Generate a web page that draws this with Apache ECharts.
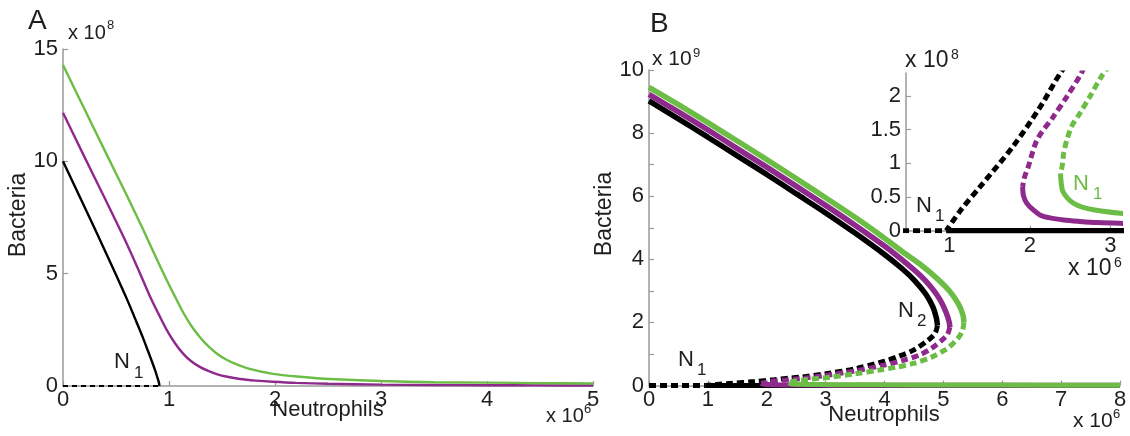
<!DOCTYPE html>
<html><head><meta charset="utf-8">
<script src="https://cdn.jsdelivr.net/npm/echarts@6/dist/echarts.min.js"></script>
<style>html,body{margin:0;padding:0;background:#fff}#c{width:1130px;height:436px}</style>
</head><body><div id="c"></div>
<script>
// ---------- Panel A (x: Neutrophils ×10^6, y: Bacteria ×10^8) ----------
const aXTicks = [0, 1, 2, 3, 4, 5];
const aYTicks = [0, 5, 10, 15];
const aBlack = [[0,10],[0.1,9.0],[0.2,8.0],[0.3,7.0],[0.4,5.98],[0.5,4.95],[0.6,3.9],[0.68,3.0],[0.75,2.2],[0.8,1.58],[0.84,1.08],[0.87,0.68],[0.89,0.38],[0.905,0.15],[0.91,0]];
const aBlackZero = [[0,0],[0.91,0]];
const aPurple = [[0,12.16],[0.2,10.22],[0.4,8.3],[0.585,6.5],[0.7,5.3],[0.82,4.0],[0.9,3.22],[0.978,2.5],[1.06,1.88],[1.135,1.43],[1.21,1.1],[1.29,0.85],[1.37,0.67],[1.45,0.53],[1.55,0.41],[1.67,0.31],[1.82,0.24],[1.98,0.19],[2.2,0.14],[2.5,0.1],[3,0.06],[3.5,0.045],[4,0.035],[4.5,0.028],[5,0.022]];
const aGreen = [[0,14.29],[0.2,12.35],[0.4,10.42],[0.6,8.5],[0.758,6.94],[0.87,5.8],[0.978,4.72],[1.06,3.95],[1.135,3.26],[1.21,2.68],[1.29,2.18],[1.37,1.77],[1.45,1.45],[1.53,1.2],[1.61,1.02],[1.76,0.76],[1.98,0.54],[2.24,0.41],[2.52,0.31],[3,0.22],[3.5,0.17],[4,0.15],[4.5,0.13],[5,0.11]];

// ---------- Panel B (x: Neutrophils ×10^6, y: Bacteria ×10^9) ----------
const bXTicks = [0, 1, 2, 3, 4, 5, 6, 7, 8];
const bYTicks = [0, 1, 2, 3, 4, 5, 6, 7, 8, 9, 10];
const bYLabels = [0, 2, 4, 6, 8, 10];
const bBlackUpper = [[0,9.02],[0.5,8.45],[1,7.87],[1.5,7.28],[2,6.69],[2.5,6.08],[3,5.47],[3.5,4.83],[4,4.15],[4.3,3.7],[4.5,3.35],[4.7,2.9],[4.82,2.5],[4.88,2.15],[4.9,1.9]];
const bBlackLower = [[4.9,1.9],[4.86,1.66],[4.75,1.45],[4.5,1.13],[4.25,0.93],[4,0.77],[3.5,0.53],[3,0.37],[2.6,0.27],[2.38,0.234],[2.13,0.184],[1.79,0.125],[1.38,0.065],[1.15,0.032],[0.96,0]];
const bBlackZeroDash = [[0,0],[0.96,0]];
const bBlackZeroSolid = [[0.96,0],[8,0]];
const bPurpleUpper = [[0,9.23],[0.5,8.67],[1,8.1],[1.5,7.51],[2,6.92],[2.5,6.32],[3,5.71],[3.5,5.08],[4,4.42],[4.3,3.98],[4.6,3.5],[4.8,3.1],[4.95,2.7],[5.05,2.3],[5.1,2.0],[5.11,1.85]];
const bPurpleLower = [[5.11,1.85],[5.07,1.62],[5.0,1.48],[4.8,1.18],[4.6,0.97],[4.3,0.79],[4,0.65],[3.5,0.46],[3,0.32],[2.64,0.234],[2.46,0.199],[2.29,0.169],[2.09,0.135],[1.98,0.095],[1.93,0.078],[1.91,0.065]];
const bPurpleStable = [[1.91,0.065],[1.92,0.052],[1.96,0.041],[2.05,0.03],[2.13,0.023],[2.25,0.019],[2.42,0.016],[2.6,0.014],[2.83,0.012],[3.12,0.011],[4,0.008],[5,0.006],[6,0.005],[8,0.004]];
const bGreenUpper = [[0,9.45],[0.5,8.9],[1,8.33],[1.5,7.75],[2,7.16],[2.5,6.56],[3,5.95],[3.5,5.33],[4,4.67],[4.3,4.25],[4.6,3.85],[4.9,3.38],[5.1,3.0],[5.25,2.6],[5.33,2.25],[5.35,2.0]];
const bGreenLower = [[5.35,2.0],[5.32,1.72],[5.25,1.5],[5.1,1.22],[5.03,1.13],[4.8,0.9],[4.49,0.7],[4.2,0.58],[3.92,0.49],[3.5,0.37],[3.07,0.26],[2.89,0.229],[2.75,0.2],[2.62,0.174],[2.52,0.155],[2.46,0.135],[2.42,0.115],[2.4,0.095],[2.38,0.085]];
const bGreenStable = [[2.38,0.085],[2.39,0.07],[2.41,0.058],[2.47,0.048],[2.54,0.041],[2.65,0.035],[2.79,0.031],[3.12,0.026],[4,0.02],[5,0.016],[6,0.013],[8,0.01]];

// ---------- Inset (x ×10^6, y ×10^8) ----------
const insetXTicks = [1, 2, 3];
const insetYTicks = [0, 0.5, 1, 1.5, 2];

const GREEN = '#6cbd45', PURPLE = '#8e2a8c', BLACK = '#000000', AXIS = '#9a9a9a', TXT = '#1e1e1e';
const FONT = '"Liberation Sans", Arial, sans-serif';

const toInset = arr => arr.map(p => [p[0], p[1] * 10]);

function axisBase(extra) {
  return Object.assign({
    type: 'value',
    axisLine: { show: true, onZero: false, lineStyle: { color: AXIS, width: 1.5 } },
    splitLine: { show: false }
  }, extra);
}
function ticks(vals) {
  return { show: true, inside: true, length: 5, lineStyle: { color: AXIS, width: 1.2 }, customValues: vals };
}
function labels(vals, margin) {
  return { color: TXT, fontSize: 22, fontFamily: FONT, margin: margin, customValues: vals };
}

function ln(data, color, width, dashed, xi, z, smooth) {
  return {
    type: 'line', data: data, xAxisIndex: xi, yAxisIndex: xi,
    showSymbol: false, symbol: 'none', smooth: smooth === undefined ? 0.3 : smooth, z: z || 2,
    lineStyle: { color: color, width: width, type: dashed ? dashed : 'solid', cap: 'butt' },
    animation: false, silent: true
  };
}

const DA = [5, 4];
const DB = [7, 4];

const option = {
  animation: false,
  backgroundColor: '#ffffff',
  grid: [
    { left: 63, top: 49, width: 530, height: 337 },
    { left: 649, top: 70, width: 471, height: 315.5 },
    { left: 906, top: 73, width: 214, height: 157.7 }
  ],
  xAxis: [
    axisBase({ gridIndex: 0, min: 0, max: 5, axisTick: ticks(aXTicks), axisLabel: labels(aXTicks, 3) }),
    axisBase({ gridIndex: 1, min: 0, max: 8, axisTick: ticks(bXTicks), axisLabel: labels(bXTicks, 3) }),
    axisBase({ gridIndex: 2, min: 0.46, max: 3.12, axisTick: ticks(insetXTicks), axisLabel: labels(insetXTicks, 4) })
  ],
  yAxis: [
    axisBase({ gridIndex: 0, min: 0, max: 15, axisTick: ticks(aYTicks), axisLabel: labels(aYTicks, 5) }),
    axisBase({ gridIndex: 1, min: 0, max: 10, axisTick: ticks(bYTicks), axisLabel: labels(bYLabels, 5) }),
    axisBase({ gridIndex: 2, min: 0, max: 2.34, axisTick: ticks(insetYTicks), axisLabel: labels(insetYTicks, 5) })
  ],
  series: [
    // Panel A
    ln(aBlackZero, BLACK, 2, DA, 0, 2, false),
    ln(aBlack, BLACK, 2.4, null, 0, 3),
    ln(aPurple, PURPLE, 2.4, null, 0, 3),
    ln(aGreen, GREEN, 2.4, null, 0, 3),
    // Panel B
    ln(bBlackZeroDash, BLACK, 5, DB, 1, 2, false),
    ln(bBlackZeroSolid, BLACK, 5, null, 1, 2, false),
    ln(bBlackUpper, BLACK, 5.5, null, 1, 3),
    ln(bBlackLower, BLACK, 5, DB, 1, 3),
    ln(bPurpleStable, PURPLE, 5, null, 1, 4),
    ln(bPurpleUpper, PURPLE, 5.5, null, 1, 4),
    ln(bPurpleLower, PURPLE, 5, DB, 1, 4),
    ln(bGreenStable, GREEN, 5, null, 1, 5),
    ln(bGreenUpper, GREEN, 5.5, null, 1, 5),
    ln(bGreenLower, GREEN, 5, DB, 1, 5),
    // Inset
    ln(toInset(bBlackZeroDash), BLACK, 5, DB, 2, 6, false),
    ln(toInset(bBlackZeroSolid), BLACK, 5.5, null, 2, 6, false),
    ln(toInset(bBlackLower), BLACK, 5, DB, 2, 6),
    ln(toInset(bPurpleStable), PURPLE, 5, null, 2, 7),
    ln(toInset(bPurpleLower), PURPLE, 5, DB, 2, 7),
    ln(toInset(bGreenStable), GREEN, 5, null, 2, 8),
    ln(toInset(bGreenLower), GREEN, 5, DB, 2, 8)
  ],
  graphic: [
    { type: 'text', x: 28, y: 21, style: { text: 'A', fill: TXT, font: '28px ' + FONT, verticalAlign: 'middle', align: 'left' } },
    { type: 'text', x: 68, y: 33, style: { text: 'x 10', fill: TXT, font: '20px ' + FONT, verticalAlign: 'middle', align: 'left' } },
    { type: 'text', x: 107, y: 25, style: { text: '8', fill: TXT, font: '13px ' + FONT, verticalAlign: 'middle', align: 'left' } },
    { type: 'text', x: 19, y: 215, rotation: Math.PI / 2, style: { text: 'Bacteria', fill: TXT, font: '23px ' + FONT, verticalAlign: 'middle', align: 'center' } },
    { type: 'text', x: 328, y: 410, style: { text: 'Neutrophils', fill: TXT, font: '22px ' + FONT, verticalAlign: 'middle', align: 'center' } },
    { type: 'text', x: 546, y: 416, style: { text: 'x 10', fill: TXT, font: '20px ' + FONT, verticalAlign: 'middle', align: 'left' } },
    { type: 'text', x: 584, y: 409, style: { text: '6', fill: TXT, font: '13px ' + FONT, verticalAlign: 'middle', align: 'left' } },
    { type: 'text', x: 114, y: 362, style: { text: 'N', fill: TXT, font: '22px ' + FONT, verticalAlign: 'middle', align: 'left' } },
    { type: 'text', x: 134, y: 373, style: { text: '1', fill: TXT, font: '17px ' + FONT, verticalAlign: 'middle', align: 'left' } },

    { type: 'text', x: 650, y: 24, style: { text: 'B', fill: TXT, font: '28px ' + FONT, verticalAlign: 'middle', align: 'left' } },
    { type: 'text', x: 652, y: 59, style: { text: 'x 10', fill: TXT, font: '21px ' + FONT, verticalAlign: 'middle', align: 'left' } },
    { type: 'text', x: 693, y: 53, style: { text: '9', fill: TXT, font: '13px ' + FONT, verticalAlign: 'middle', align: 'left' } },
    { type: 'text', x: 605, y: 214, rotation: Math.PI / 2, style: { text: 'Bacteria', fill: TXT, font: '23px ' + FONT, verticalAlign: 'middle', align: 'center' } },
    { type: 'text', x: 884, y: 415, style: { text: 'Neutrophils', fill: TXT, font: '22px ' + FONT, verticalAlign: 'middle', align: 'center' } },
    { type: 'text', x: 1073, y: 421, style: { text: 'x 10', fill: TXT, font: '21px ' + FONT, verticalAlign: 'middle', align: 'left' } },
    { type: 'text', x: 1113, y: 414, style: { text: '6', fill: TXT, font: '13px ' + FONT, verticalAlign: 'middle', align: 'left' } },
    { type: 'text', x: 678, y: 360, style: { text: 'N', fill: TXT, font: '22px ' + FONT, verticalAlign: 'middle', align: 'left' } },
    { type: 'text', x: 697, y: 370, style: { text: '1', fill: TXT, font: '17px ' + FONT, verticalAlign: 'middle', align: 'left' } },
    { type: 'text', x: 898, y: 311, style: { text: 'N', fill: TXT, font: '22px ' + FONT, verticalAlign: 'middle', align: 'left' } },
    { type: 'text', x: 917, y: 321, style: { text: '2', fill: TXT, font: '17px ' + FONT, verticalAlign: 'middle', align: 'left' } },

    { type: 'text', x: 905, y: 61, style: { text: 'x 10', fill: TXT, font: '23px ' + FONT, verticalAlign: 'middle', align: 'left' } },
    { type: 'text', x: 951, y: 55, style: { text: '8', fill: TXT, font: '14px ' + FONT, verticalAlign: 'middle', align: 'left' } },
    { type: 'text', x: 1068, y: 269, style: { text: 'x 10', fill: TXT, font: '23px ' + FONT, verticalAlign: 'middle', align: 'left' } },
    { type: 'text', x: 1114, y: 263, style: { text: '6', fill: TXT, font: '14px ' + FONT, verticalAlign: 'middle', align: 'left' } },
    { type: 'text', x: 916, y: 206, style: { text: 'N', fill: TXT, font: '22px ' + FONT, verticalAlign: 'middle', align: 'left' } },
    { type: 'text', x: 935, y: 216, style: { text: '1', fill: TXT, font: '17px ' + FONT, verticalAlign: 'middle', align: 'left' } },
    { type: 'text', x: 1073, y: 184, style: { text: 'N', fill: GREEN, font: '22px ' + FONT, verticalAlign: 'middle', align: 'left' } },
    { type: 'text', x: 1093, y: 194, style: { text: '1', fill: GREEN, font: '17px ' + FONT, verticalAlign: 'middle', align: 'left' } }
  ]
};

const chart = echarts.init(document.getElementById('c'), null, { renderer: 'canvas' });
chart.setOption(option);
</script>
</body></html>
